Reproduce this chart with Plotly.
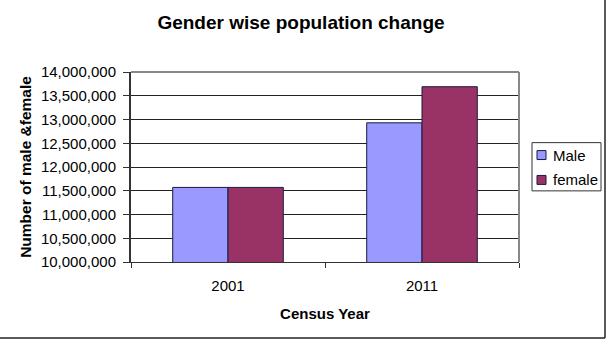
import plotly.graph_objects as go

years = ["2001", "2011"]
male = [11570000, 12930000]
female = [11570000, 13690000]
series_names = ["Male", "female"]
series_colors = ["#9999FF", "#993366"]
tick_vals = list(range(10000000, 14000001, 500000))
tick_text = [f"{v:,}" for v in tick_vals]

W, H = 612, 344
L, R, T, B = 131, 519, 71.5, 262.5

def px(x):
    return (x - L) / (R - L)

def py(y):
    return (B - y) / (B - T)

font = "Liberation Sans, Arial, sans-serif"

fig = go.Figure()
for name, vals, col in zip(series_names, [male, female], series_colors):
    fig.add_trace(go.Bar(name=name, x=years, y=vals,
                         marker=dict(color=col, line=dict(color="#1a1a40", width=1))))

fig.update_layout(
    width=W, height=H,
    margin=dict(l=L, r=W - R, t=T, b=H - B, autoexpand=False),
    paper_bgcolor="white", plot_bgcolor="white",
    barmode="group", bargap=0.43, bargroupgap=0,
    font=dict(family=font, size=15, color="#000000"),
    title=dict(text="<b>Gender wise population change</b>", x=301 / W, xanchor="center",
               y=1 - 22 / H, yanchor="middle", font=dict(size=19, family=font)),
    showlegend=False,
)
fig.update_yaxes(range=[10000000, 14000000], tickvals=tick_vals, ticktext=tick_text,
                 showgrid=True, gridcolor="#222222", gridwidth=1,
                 showline=True, linecolor="#333333", linewidth=2,
                 ticks="outside", ticklen=6, tickcolor="#333333",
                 ticklabelstandoff=4,
                 tickfont=dict(size=15), zeroline=False, automargin=False,
                 title=dict(text="<b>Number of male &female</b>", font=dict(size=15.5), standoff=5))
fig.update_xaxes(showline=True, linecolor="#333333", linewidth=1,
                 ticks="outside", ticklen=5, tickcolor="#333333", tickson="boundaries",
                 ticklabelstandoff=10,
                 tickfont=dict(size=15), automargin=False,
                 title=dict(text="<b>Census Year</b>", font=dict(size=15), standoff=15))

# plot area top/right border (gray)
fig.add_shape(type="line", xref="paper", yref="paper", x0=0, x1=1, y0=1, y1=1,
              line=dict(color="#888888", width=2))
fig.add_shape(type="line", xref="paper", yref="paper", x0=1, x1=1, y0=0, y1=1,
              line=dict(color="#888888", width=2))
# outer chart border (right and bottom)
fig.add_shape(type="line", xref="paper", yref="paper", x0=px(605), x1=px(605), y0=py(-5), y1=py(339),
              line=dict(color="#222222", width=1.5))
fig.add_shape(type="line", xref="paper", yref="paper", x0=px(-5), x1=px(605), y0=py(339), y1=py(339),
              line=dict(color="#222222", width=1.5))

# legend box (drawn to match reference layout)
fig.add_shape(type="rect", xref="paper", yref="paper", x0=px(532), x1=px(601), y0=py(142.5), y1=py(191),
              line=dict(color="#333333", width=1), fillcolor="white")
for i, (name, col) in enumerate(zip(series_names, series_colors)):
    yc = 155 + 25 * i
    fig.add_shape(type="rect", xref="paper", yref="paper",
                  x0=px(537), x1=px(546), y0=py(yc - 4.5), y1=py(yc + 4.5),
                  line=dict(color="#1a1a40", width=1), fillcolor=col)
    fig.add_annotation(text=name, xref="paper", yref="paper", x=px(551), y=py(yc),
                       xanchor="left", yanchor="middle", showarrow=False,
                       font=dict(size=15, family=font))

fig.write_html("out.html")
